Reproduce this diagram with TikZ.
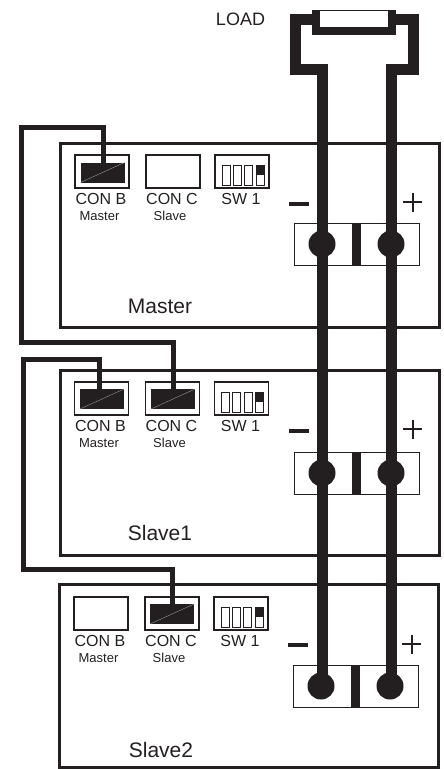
\documentclass[tikz,border=0pt]{standalone}
\usepackage{fontspec}
\setmainfont{Liberation Sans}
\definecolor{ink}{HTML}{231F20}
\tikzset{
  x=1pt,y=-1pt,
  every node/.style={outer sep=0pt},
  panel/.style={draw=ink,line width=3pt,rectangle,minimum width=379pt,minimum height=#1,inner sep=0pt,anchor=north west},
  conbox/.style={draw=ink,line width=1.3pt,rectangle,minimum width=54pt,minimum height=33pt,inner sep=0pt,anchor=north west},
  plug/.style={fill=ink,rectangle,minimum width=44pt,minimum height=20pt,inner sep=0pt},
  swslot/.style={draw=ink,line width=.7pt,rectangle,minimum width=8pt,minimum height=19.5pt,inner sep=0pt,anchor=north west},
  swtop/.style={fill=ink,rectangle,minimum width=8pt,minimum height=9.5pt,inner sep=0pt,anchor=north west},
  block/.style={draw=ink,line width=.9pt,rectangle,minimum width=125pt,minimum height=42pt,inner sep=0pt,anchor=north west},
  divider/.style={fill=ink,rectangle,minimum width=9pt,minimum height=42pt,inner sep=0pt},
  stud/.style={fill=ink,circle,minimum size=27pt,inner sep=0pt},
  wire/.style={draw=ink,line width=5pt,miter limit=10},
  busbar/.style={draw=ink,line width=11pt,miter limit=10},
  conlabel/.style={text=ink,font=\fontsize{16}{16}\selectfont,inner sep=0pt},
  sublabel/.style={text=ink,font=\fontsize{13}{13}\selectfont,inner sep=0pt},
  title/.style={text=ink,font=\fontsize{21}{21}\selectfont,inner sep=0pt},
  glint/.style={draw=gray!60,line width=.3pt},
  minusbar/.style={draw=ink,line width=3.5pt},
  plusbar/.style={draw=ink,line width=2pt},
}
% #1 prefix, #2 x-offset, #3 top y, #4 block x, #5 block y, #6 title, #7 title x, #8 title y
\newcommand{\unitbody}[8]{%
  \node[conbox] (#1b) at (75+#2,#3) {};
  \node[conbox] (#1c) at (146+#2,#3) {};
  \node[conbox] (#1s) at (215+#2,#3) {};
  \foreach \k/\xx in {1/7,2/18.3,3/29.6,4/41}{
    \node[swslot] (#1s\k) at (215+#2+\xx,#3+10.5) {};
  }
  \node[swtop] at (215+#2+41,#3+10.5) {};
  \node[conlabel] at (101+#2,#3+44) {CON B};
  \node[conlabel] at (172+#2,#3+44) {CON C};
  \node[conlabel] at (241+#2,#3+44) {SW 1};
  \node[sublabel] at (99.5+#2,#3+61) {Master};
  \node[sublabel] at (170+#2,#3+61) {Slave};
  \node[block] (#1t) at (#4,#5) {};
  \node[divider] (#1d) at (#4+62.5,#5+21) {};
  \node[stud] (#1m) at (#4+28,#5+21) {};
  \node[stud] (#1p) at (#4+97,#5+21) {};
  \node[title] at (#7,#8) {#6};
}
\begin{document}
\begin{tikzpicture}
\useasboundingbox (0,0) rectangle (444,769);
% panels
\node[panel=184pt] (pm) at (60.5,143) {};
\node[panel=184.5pt] (ps1) at (60,370.5) {};
\node[panel=183pt] (ps2) at (59.5,584.5) {};
% units
\unitbody{m}{0}{155}{294}{223}{Master}{160}{306}
\unitbody{a}{-.5}{382}{294}{452}{Slave1}{160}{533}
\unitbody{z}{-1}{597}{293}{665}{Slave2}{161}{750}
% plugs
\node[plug] (mpb) at (102.5,172.5) {};
\node[plug] (apb) at (102,399) {};
\node[plug] (apc) at (173,399) {};
\node[plug] (zpc) at (172,614) {};
\draw[glint] (mpb.south west) -- (mpb.north east);
\draw[glint] (apb.south west) -- (apb.north east);
\draw[glint] (apc.south west) -- (apc.north east);
\draw[glint] (zpc.south west) -- (zpc.north east);
% signal wires
\coordinate (w1a) at (103,127.5);
\coordinate (w1b) at (21.5,127.5);
\coordinate (w1c) at (21.5,342);
\coordinate (w1d) at (173,342);
\draw[wire] (mpb.north -| w1a) -- (w1a) -- (w1b) -- (w1c) -- (w1d) -- (apc.north -| w1d);
\coordinate (w2a) at (99,359);
\coordinate (w2b) at (23.5,359);
\coordinate (w2c) at (23.5,569);
\coordinate (w2d) at (172,569);
\draw[wire] (apb.north -| w2a) -- (w2a) -- (w2b) -- (w2c) -- (w2d) -- (zpc.north -| w2d);
% load
\coordinate (lNW) at (295.5,19.5);
\coordinate (lSW) at (295.5,69.5);
\coordinate (lNE) at (413.5,19.5);
\coordinate (lSE) at (413.5,69.5);
\node[fill=ink,rectangle,minimum width=84pt,minimum height=25pt,inner sep=0pt] (load) at (354,22.5) {};
\draw[busbar] (load.west |- lNW) -- (lNW) -- (lSW) -- (mm.center |- lSW) -- (mm.center |- zm.center);
\draw[busbar] (load.east |- lNE) -- (lNE) -- (lSE) -- (mp.center |- lSE) -- (mp.center |- zp.center);
\node[fill=white,rectangle,minimum width=68pt,minimum height=16pt,inner sep=0pt] at (354,19) {};
\node[text=ink,font=\fontsize{18}{18}\selectfont,inner sep=0pt] (loadtext) at (240.5,19) {LOAD};
% signs
\draw[minusbar] (289,204) -- (309,204);
\draw[plusbar] (403,202) -- (422,202) (412.5,192.5) -- (412.5,212);
\draw[minusbar] (289,431) -- (309,431);
\draw[plusbar] (403,429) -- (422,429) (412.5,419.5) -- (412.5,439);
\draw[minusbar] (288,645) -- (308,645);
\draw[plusbar] (402,644) -- (421,644) (411.5,634.5) -- (411.5,654);
\end{tikzpicture}
\end{document}
